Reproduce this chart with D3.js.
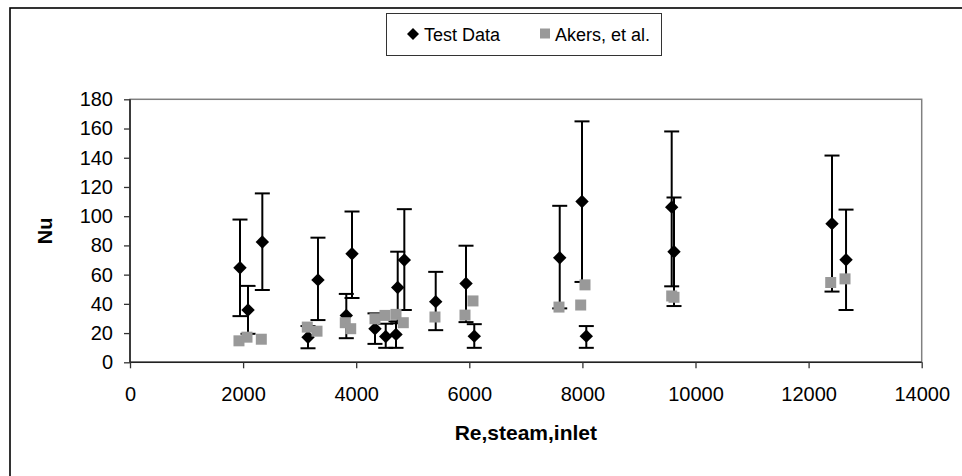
<!DOCTYPE html>
<html>
<head>
<meta charset="utf-8">
<script src="https://cdn.jsdelivr.net/npm/d3@7"></script>
<style>
  html, body { margin: 0; padding: 0; background: #fff; }
  svg { display: block; }
  text { font-family: "Liberation Sans", Arial, sans-serif; fill: #000; }
</style>
</head>
<body>
<svg id="chart" width="962" height="476"></svg>
<script>
// Measured Nusselt numbers with their uncertainty band
const testRe   = [1945, 2087, 2340, 3148, 3324, 3825, 3926, 4332, 4522, 4704, 4734,
                  4851, 5406, 5942, 6088, 7599, 7993, 8069, 9579, 9620, 12414, 12662];
const testNu   = [64.7, 35.8, 82.3, 17.2, 56.4, 32.1, 74.3, 23.0, 17.7, 19.1, 51.2,
                  70.0, 41.5, 53.9, 17.9, 71.5, 110.0, 17.9, 106.2, 75.7, 94.9, 70.2];
const testLow  = [31.6, 19.5, 49.5, 9.6, 28.9, 16.5, 44.0, 12.6, 9.9, 9.9, 26.7,
                  35.8, 22.0, 27.5, 9.9, 36.9, 55.0, 9.9, 52.0, 38.5, 48.4, 35.8];
const testHigh = [97.7, 52.3, 115.6, 24.8, 85.3, 46.8, 103.2, 33.5, 26.4, 28.0, 75.7,
                  104.8, 61.9, 79.8, 26.1, 107.1, 164.9, 24.8, 158.0, 112.8, 141.5, 104.5];

// Akers, et al. correlation evaluated at the same inlet conditions
const akersRe = [1927, 2069, 2322, 3135, 3307, 3807, 3903, 4332, 4509, 4704, 4833,
                 5393, 5924, 6065, 7586, 7970, 8046, 9579, 9620, 12391, 12644];
const akersNu = [14.7, 17.2, 15.8, 24.1, 21.3, 27.1, 23.0, 29.8, 32.1, 32.8, 27.1,
                 31.0, 32.3, 42.0, 37.8, 39.2, 53.0, 45.4, 44.5, 54.6, 57.1];

const xTicks = [0, 2000, 4000, 6000, 8000, 10000, 12000, 14000];
const yTicks = [0, 20, 40, 60, 80, 100, 120, 140, 160, 180];
const seriesNames = ["Test Data", "Akers, et al."];

const svg = d3.select("#chart");

// Outer chart frame
svg.append("rect")
  .attr("x", 10).attr("y", 8).attr("width", 1000).attr("height", 600)
  .attr("fill", "none").attr("stroke", "#000").attr("stroke-width", 1.6);

const x = d3.scaleLinear().domain([0, 14000]).range([130, 921.7]);
const y = d3.scaleLinear().domain([0, 180]).range([362.3, 99.3]);

// Plot area border
svg.append("rect")
  .attr("x", x(0)).attr("y", y(180))
  .attr("width", x(14000) - x(0)).attr("height", y(0) - y(180))
  .attr("fill", "none").attr("stroke", "#808080").attr("stroke-width", 1.5);

// Axes
const yAxis = svg.append("g")
  .attr("transform", `translate(${x(0)},0)`)
  .call(d3.axisLeft(y).tickValues(yTicks).tickSize(6).tickPadding(11).tickFormat(d3.format("d")));
const xAxis = svg.append("g")
  .attr("transform", `translate(0,${y(0)})`)
  .call(d3.axisBottom(x).tickValues(xTicks).tickSize(6).tickPadding(19).tickFormat(d3.format("d")));

[xAxis, yAxis].forEach(g => {
  g.select(".domain").attr("stroke", "#222").attr("stroke-width", 1.6);
  g.selectAll(".tick line").attr("stroke", "#333").attr("stroke-width", 1.3);
  g.selectAll(".tick text")
    .style("font-family", "'Liberation Sans', Arial, sans-serif")
    .style("font-size", "20px").attr("fill", "#000");
});
yAxis.select(".domain").attr("d", `M0,${y(0)}V${y(180)}`);
xAxis.select(".domain").attr("d", `M${x(0)},0H${x(14000)}`);

// Axis titles
svg.append("text")
  .attr("x", (x(0) + x(14000)) / 2).attr("y", 440)
  .attr("text-anchor", "middle")
  .style("font-size", "21px").style("font-weight", "bold")
  .text("Re,steam,inlet");
svg.append("text")
  .attr("transform", `translate(52,${(y(0) + y(180)) / 2}) rotate(-90)`)
  .attr("text-anchor", "middle")
  .style("font-size", "20px").style("font-weight", "bold")
  .text("Nu");

// Error bars for the test data
const testData = testRe.map((r, i) => ({ re: r, nu: testNu[i], lo: testLow[i], hi: testHigh[i] }));
const capHalf = 7.5;
const bars = svg.append("g").attr("stroke", "#000").attr("stroke-width", 2).attr("fill", "none");
testData.forEach(d => {
  const cx = x(d.re);
  bars.append("line").attr("x1", cx).attr("x2", cx).attr("y1", y(d.lo)).attr("y2", y(d.hi));
  bars.append("line").attr("x1", cx - capHalf).attr("x2", cx + capHalf).attr("y1", y(d.hi)).attr("y2", y(d.hi));
  bars.append("line").attr("x1", cx - capHalf).attr("x2", cx + capHalf).attr("y1", y(d.lo)).attr("y2", y(d.lo));
});

// Test data markers (diamonds)
const diamond = d3.symbol().type(d3.symbolSquare).size(90);
svg.append("g").selectAll("path")
  .data(testData).join("path")
  .attr("d", diamond)
  .attr("transform", d => `translate(${x(d.re)},${y(d.nu)}) rotate(45)`)
  .attr("fill", "#000");

// Akers markers (grey squares) drawn on top
const akersData = akersRe.map((r, i) => ({ re: r, nu: akersNu[i] }));
const square = d3.symbol().type(d3.symbolSquare).size(121);
svg.append("g").selectAll("path")
  .data(akersData).join("path")
  .attr("d", square)
  .attr("transform", d => `translate(${x(d.re)},${y(d.nu)})`)
  .attr("fill", "#999999");

// Legend
const legend = svg.append("g");
legend.append("rect")
  .attr("x", 386.5).attr("y", 13.5).attr("width", 275).attr("height", 42)
  .attr("fill", "#fff").attr("stroke", "#333").attr("stroke-width", 1);
legend.append("path")
  .attr("d", d3.symbol().type(d3.symbolSquare).size(72))
  .attr("transform", "translate(413,34) rotate(45)")
  .attr("fill", "#000");
legend.append("text").attr("x", 424).attr("y", 40.5)
  .style("font-size", "18px").text(seriesNames[0]);
legend.append("path")
  .attr("d", d3.symbol().type(d3.symbolSquare).size(100))
  .attr("transform", "translate(545,33.5)")
  .attr("fill", "#999999");
legend.append("text").attr("x", 555).attr("y", 40.5)
  .style("font-size", "18px").text(seriesNames[1]);
</script>
</body>
</html>
